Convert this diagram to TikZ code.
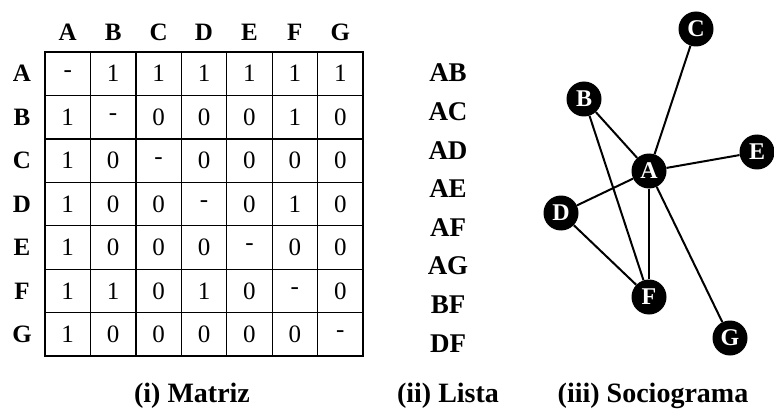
\documentclass[tikz,border=0pt]{standalone}
\usepackage{fontspec}
\setmainfont{Liberation Serif}
\usetikzlibrary{backgrounds}

\tikzset{
  hd/.style={font=\fontsize{25}{28}\selectfont\bfseries, inner sep=0pt},
  cell/.style={font=\fontsize{25}{28}\selectfont, inner sep=0pt},
  lst/.style={font=\fontsize{27}{30}\selectfont\bfseries, inner sep=0pt},
  title/.style={font=\fontsize{28}{32}\selectfont\bfseries, inner sep=0pt},
  actor/.style={circle, fill=black, text=white, minimum size=35pt, inner sep=0pt,
    font=\fontsize{24}{26}\selectfont\bfseries},
  tie/.style={line width=2pt}
}

\begin{document}
\begin{tikzpicture}[x=1pt,y=-1pt]
      \useasboundingbox (0,0) rectangle (774,409);

      % (i) matriz
      \draw[line width=1.3pt] (45,52) rectangle (363,356);
      \foreach \i in {1,...,6} {
        \draw[line width=1.3pt] (45+\i*45.43,52) -- (45+\i*45.43,356);
        \draw[line width=1.3pt] (45,52+\i*43.43) -- (363,52+\i*43.43);
      }
      \foreach \l [count=\i] in {A,B,C,D,E,F,G} {
        \node[hd] (c\l) at (45+\i*45.43-22.7,32) {\l};
        \node[hd] (r\l) at (22,52+\i*43.43-21.7) {\l};
      }
      \foreach \row [count=\r] in {{-,1,1,1,1,1,1},{1,-,0,0,0,1,0},{1,0,-,0,0,0,0},
          {1,0,0,-,0,1,0},{1,0,0,0,-,0,0},{1,1,0,1,0,-,0},{1,0,0,0,0,0,-}} {
        \foreach \v [count=\c] in \row
          \node[cell] (m-\r-\c) at (45+\c*45.43-22.7,52+\r*43.43-21.7) {\v};
      }

      % (ii) lista
      \foreach \p [count=\i] in {AB,AC,AD,AE,AF,AG,BF,DF}
        \node[lst] (l\p) at (448,73+\i*38.6-38.6) {\p};

      % (iii) sociograma
      \begin{scope}[every node/.style={actor}]
        \node (A) at (649,171) {A};
        \node (B) at (584,99)  {B};
        \node (C) at (696,29)  {C};
        \node (D) at (561,213) {D};
        \node (E) at (757,152) {E};
        \node (F) at (649,297) {F};
        \node (G) at (730,338) {G};
      \end{scope}

      \begin{scope}[on background layer]
        \draw[tie] (A) -- (B);
        \draw[tie] (A) -- (C);
        \draw[tie] (A) -- (D);
        \draw[tie] (A) -- (E);
        \draw[tie] (A) -- (F);
        \draw[tie] (A) -- (G);
        \draw[tie] (B) -- (F);
        \draw[tie] (D) -- (F);
      \end{scope}

      % captions
      \node[title] (tM) at (192,396) {(i) Matriz};
      \node[title] (tL) at (448,396) {(ii) Lista};
      \node[title] (tS) at (653,396) {(iii) Sociograma};

    \end{tikzpicture}
\end{document}
